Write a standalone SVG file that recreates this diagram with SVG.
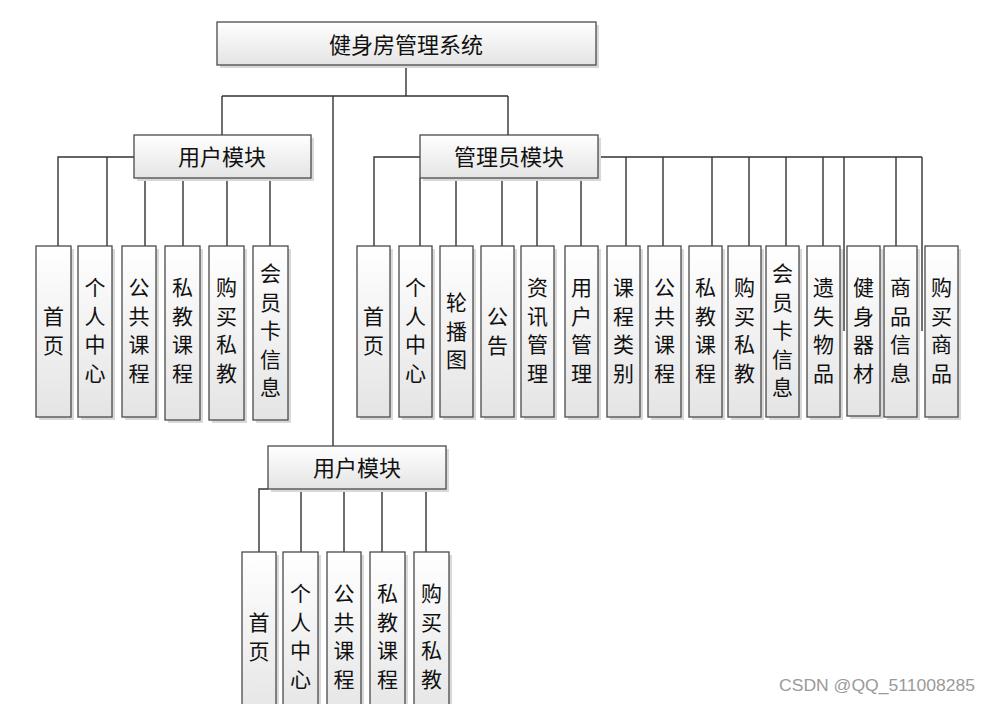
<svg xmlns="http://www.w3.org/2000/svg" width="989" height="704" viewBox="0 0 989 704">
<defs>
<linearGradient id="g" x1="0" y1="0" x2="0" y2="1">
<stop offset="0" stop-color="#ffffff"/>
<stop offset="1" stop-color="#e4e4e4"/>
</linearGradient>
<style>
.sh{fill:#d9d9d9}
.bx{fill:url(#g);stroke:#4a4a4a;stroke-width:1.3}
.t{font-family:"Noto Sans CJK SC","Noto Sans",sans-serif;font-size:21px;fill:#111;text-anchor:middle}
.h{font-size:22px}
.c{fill:none;stroke:#333;stroke-width:1.4}
.wm{font-family:"Liberation Sans",Arial,sans-serif;font-size:16px;fill:#9a9a9a}
</style>
</defs>
<rect width="989" height="704" fill="#fff"/>
<g id="connectors" class="c">
<path d="M406,65V96M222,96H508M222,96V135M508,96V135M333,96V446"/>
<path d="M134,157H58V246M107,157V246M145,178V246M183,178V246M227,178V246M270,178V246"/>
<path d="M420,157H374V246M420,178V246M456,178V246M502,178V246M537,178V246M581,178V246"/>
<path d="M598,157H922M626,157V246M663,157V246M712,157V246M749,157V246M786,157V246M823,157V246M844,157V331M896,157V246M922,157V331"/>
<path d="M268,489H259V552M301,489V552M344,489V552M382,489V552M426,489V552"/>
</g>
<g id="root"><rect class="sh" x="220" y="25" width="379" height="43"/><rect class="bx" x="217" y="22" width="379" height="43"/><text class="t h" x="406" y="53">健身房管理系统</text></g>
<g id="user1"><rect class="sh" x="137" y="138" width="177" height="43"/><rect class="bx" x="134" y="135" width="177" height="43"/><text class="t h" x="222" y="165">用户模块</text></g>
<g id="admin"><rect class="sh" x="423" y="138" width="178" height="43"/><rect class="bx" x="420" y="135" width="178" height="43"/><text class="t h" x="509" y="165">管理员模块</text></g>
<g id="user2"><rect class="sh" x="271" y="449" width="178" height="43"/><rect class="bx" x="268" y="446" width="178" height="43"/><text class="t h" x="357" y="476">用户模块</text></g>

<g id="u1-1"><rect class="sh" x="39" y="249" width="35" height="171"/><rect class="bx" x="36" y="246" width="35" height="171"/><text class="t" x="53.5" y="324">首<tspan x="53.5" dy="28.5">页</tspan></text></g>
<g id="u1-2"><rect class="sh" x="81" y="249" width="34" height="171"/><rect class="bx" x="78" y="246" width="34" height="171"/><text class="t" x="95" y="295">个<tspan x="95" dy="28.5">人</tspan><tspan x="95" dy="28.5">中</tspan><tspan x="95" dy="28.5">心</tspan></text></g>
<g id="u1-3"><rect class="sh" x="125" y="249" width="34" height="171"/><rect class="bx" x="122" y="246" width="34" height="171"/><text class="t" x="139" y="295">公<tspan x="139" dy="28.5">共</tspan><tspan x="139" dy="28.5">课</tspan><tspan x="139" dy="28.5">程</tspan></text></g>
<g id="u1-4"><rect class="sh" x="168" y="249" width="35" height="174"/><rect class="bx" x="165" y="246" width="35" height="174"/><text class="t" x="182.5" y="295">私<tspan x="182.5" dy="28.5">教</tspan><tspan x="182.5" dy="28.5">课</tspan><tspan x="182.5" dy="28.5">程</tspan></text></g>
<g id="u1-5"><rect class="sh" x="212" y="249" width="35" height="174"/><rect class="bx" x="209" y="246" width="35" height="174"/><text class="t" x="226.5" y="295">购<tspan x="226.5" dy="28.5">买</tspan><tspan x="226.5" dy="28.5">私</tspan><tspan x="226.5" dy="28.5">教</tspan></text></g>
<g id="u1-6"><rect class="sh" x="256" y="249" width="35" height="174"/><rect class="bx" x="253" y="246" width="35" height="174"/><text class="t" x="270.5" y="281">会<tspan x="270.5" dy="28.5">员</tspan><tspan x="270.5" dy="28.5">卡</tspan><tspan x="270.5" dy="28.5">信</tspan><tspan x="270.5" dy="28.5">息</tspan></text></g>

<g id="a-1"><rect class="sh" x="360" y="249" width="33" height="171"/><rect class="bx" x="357" y="246" width="33" height="171"/><text class="t" x="373.5" y="324">首<tspan x="373.5" dy="28.5">页</tspan></text></g>
<g id="a-2"><rect class="sh" x="402" y="249" width="33" height="171"/><rect class="bx" x="399" y="246" width="33" height="171"/><text class="t" x="415.5" y="295">个<tspan x="415.5" dy="28.5">人</tspan><tspan x="415.5" dy="28.5">中</tspan><tspan x="415.5" dy="28.5">心</tspan></text></g>
<g id="a-3"><rect class="sh" x="443" y="249" width="33" height="171"/><rect class="bx" x="440" y="246" width="33" height="171"/><text class="t" x="456.5" y="310">轮<tspan x="456.5" dy="28.5">播</tspan><tspan x="456.5" dy="28.5">图</tspan></text></g>
<g id="a-4"><rect class="sh" x="484" y="249" width="33" height="171"/><rect class="bx" x="481" y="246" width="33" height="171"/><text class="t" x="497.5" y="324">公<tspan x="497.5" dy="28.5">告</tspan></text></g>
<g id="a-5"><rect class="sh" x="524" y="249" width="33" height="171"/><rect class="bx" x="521" y="246" width="33" height="171"/><text class="t" x="537.5" y="295">资<tspan x="537.5" dy="28.5">讯</tspan><tspan x="537.5" dy="28.5">管</tspan><tspan x="537.5" dy="28.5">理</tspan></text></g>
<g id="a-6"><rect class="sh" x="568" y="249" width="33" height="171"/><rect class="bx" x="565" y="246" width="33" height="171"/><text class="t" x="581.5" y="295">用<tspan x="581.5" dy="28.5">户</tspan><tspan x="581.5" dy="28.5">管</tspan><tspan x="581.5" dy="28.5">理</tspan></text></g>
<g id="a-7"><rect class="sh" x="610" y="249" width="33" height="171"/><rect class="bx" x="607" y="246" width="33" height="171"/><text class="t" x="623.5" y="295">课<tspan x="623.5" dy="28.5">程</tspan><tspan x="623.5" dy="28.5">类</tspan><tspan x="623.5" dy="28.5">别</tspan></text></g>
<g id="a-8"><rect class="sh" x="651" y="249" width="33" height="171"/><rect class="bx" x="648" y="246" width="33" height="171"/><text class="t" x="664.5" y="295">公<tspan x="664.5" dy="28.5">共</tspan><tspan x="664.5" dy="28.5">课</tspan><tspan x="664.5" dy="28.5">程</tspan></text></g>
<g id="a-9"><rect class="sh" x="692" y="249" width="33" height="171"/><rect class="bx" x="689" y="246" width="33" height="171"/><text class="t" x="705.5" y="295">私<tspan x="705.5" dy="28.5">教</tspan><tspan x="705.5" dy="28.5">课</tspan><tspan x="705.5" dy="28.5">程</tspan></text></g>
<g id="a-10"><rect class="sh" x="731" y="249" width="33" height="171"/><rect class="bx" x="728" y="246" width="33" height="171"/><text class="t" x="744.5" y="295">购<tspan x="744.5" dy="28.5">买</tspan><tspan x="744.5" dy="28.5">私</tspan><tspan x="744.5" dy="28.5">教</tspan></text></g>
<g id="a-11"><rect class="sh" x="769" y="249" width="33" height="171"/><rect class="bx" x="766" y="246" width="33" height="171"/><text class="t" x="782.5" y="281">会<tspan x="782.5" dy="28.5">员</tspan><tspan x="782.5" dy="28.5">卡</tspan><tspan x="782.5" dy="28.5">信</tspan><tspan x="782.5" dy="28.5">息</tspan></text></g>
<g id="a-12"><rect class="sh" x="810" y="249" width="33" height="171"/><rect class="bx" x="807" y="246" width="33" height="171"/><text class="t" x="823.5" y="295">遗<tspan x="823.5" dy="28.5">失</tspan><tspan x="823.5" dy="28.5">物</tspan><tspan x="823.5" dy="28.5">品</tspan></text></g>
<g id="a-13"><rect class="sh" x="850" y="249" width="33" height="170"/><rect class="bx" x="847" y="246" width="33" height="170"/><text class="t" x="863.5" y="295">健<tspan x="863.5" dy="28.5">身</tspan><tspan x="863.5" dy="28.5">器</tspan><tspan x="863.5" dy="28.5">材</tspan></text></g>
<g id="a-14"><rect class="sh" x="887" y="249" width="33" height="171"/><rect class="bx" x="884" y="246" width="33" height="171"/><text class="t" x="900.5" y="295">商<tspan x="900.5" dy="28.5">品</tspan><tspan x="900.5" dy="28.5">信</tspan><tspan x="900.5" dy="28.5">息</tspan></text></g>
<g id="a-15"><rect class="sh" x="928" y="249" width="33" height="171"/><rect class="bx" x="925" y="246" width="33" height="171"/><text class="t" x="941.5" y="295">购<tspan x="941.5" dy="28.5">买</tspan><tspan x="941.5" dy="28.5">商</tspan><tspan x="941.5" dy="28.5">品</tspan></text></g>

<g id="u2-1"><rect class="sh" x="245" y="555" width="34" height="171"/><rect class="bx" x="242" y="552" width="34" height="171"/><text class="t" x="259" y="630">首<tspan x="259" dy="28.5">页</tspan></text></g>
<g id="u2-2"><rect class="sh" x="286" y="555" width="35" height="171"/><rect class="bx" x="283" y="552" width="35" height="171"/><text class="t" x="300.5" y="601">个<tspan x="300.5" dy="28.5">人</tspan><tspan x="300.5" dy="28.5">中</tspan><tspan x="300.5" dy="28.5">心</tspan></text></g>
<g id="u2-3"><rect class="sh" x="330" y="555" width="34" height="171"/><rect class="bx" x="327" y="552" width="34" height="171"/><text class="t" x="344" y="601">公<tspan x="344" dy="28.5">共</tspan><tspan x="344" dy="28.5">课</tspan><tspan x="344" dy="28.5">程</tspan></text></g>
<g id="u2-4"><rect class="sh" x="373" y="555" width="35" height="171"/><rect class="bx" x="370" y="552" width="35" height="171"/><text class="t" x="387.5" y="601">私<tspan x="387.5" dy="28.5">教</tspan><tspan x="387.5" dy="28.5">课</tspan><tspan x="387.5" dy="28.5">程</tspan></text></g>
<g id="u2-5"><rect class="sh" x="417" y="555" width="35" height="171"/><rect class="bx" x="414" y="552" width="35" height="171"/><text class="t" x="431.5" y="601">购<tspan x="431.5" dy="28.5">买</tspan><tspan x="431.5" dy="28.5">私</tspan><tspan x="431.5" dy="28.5">教</tspan></text></g>

<text class="wm" x="779" y="691" textLength="196" lengthAdjust="spacingAndGlyphs">CSDN @QQ_511008285</text>
</svg>
